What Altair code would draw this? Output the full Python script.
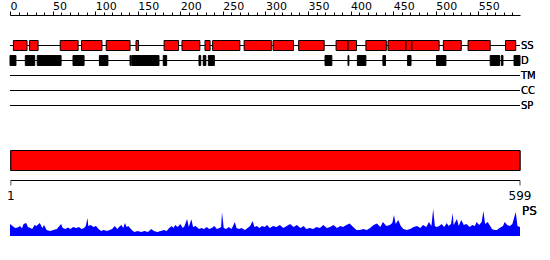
import altair as alt
import pandas as pd

SEQ_LEN = 599

# Secondary structure (SS) segments, residues
ss_start = [4, 23, 59, 84, 113, 148, 181, 202, 229, 238, 275, 309, 339, 383, 397, 418, 444, 465, 472, 509, 538, 582]
ss_end = [20, 33, 80, 108, 141, 151, 198, 223, 235, 270, 307, 333, 369, 397, 407, 442, 465, 472, 504, 530, 564, 594]

# Disorder (D) segments, residues
dis_start = [0, 18, 32, 74, 105, 141, 143, 180, 222, 227, 233, 370, 397, 408, 438, 467, 501, 564, 577, 592]
dis_end = [7, 29, 60, 87, 115, 142, 175, 184, 224, 230, 240, 378, 398, 418, 441, 471, 512, 575, 579, 599]

track_names = ["SS", "D", "TM", "CC", "SP"]

# PS profile (residue, score)
ps_pos = [0, 3, 6, 9, 12, 14, 16, 19, 21, 24, 26, 29, 31, 35, 38, 40, 43, 47, 51, 55, 57, 60, 62, 65,
          68, 71, 74, 78, 81, 84, 87, 89, 91, 92, 95, 98, 101, 104, 107, 110, 114, 117, 120, 123, 126,
          128, 131, 133, 135, 137, 139, 143, 146, 150, 154, 158, 162, 166, 169, 173, 177, 181, 184,
          187, 190, 192, 194, 197, 200, 203, 205, 208, 210, 213, 215, 218, 222, 225, 228, 231, 234,
          237, 240, 243, 246, 248, 249, 251, 254, 257, 260, 262, 264, 266, 269, 272, 276, 279, 282,
          285, 287, 290, 293, 296, 299, 302, 305, 309, 313, 317, 321, 325, 329, 333, 337, 341, 345,
          348, 352, 356, 360, 364, 368, 372, 376, 380, 384, 388, 391, 395, 399, 403, 407, 411, 415,
          419, 423, 427, 431, 435, 438, 442, 446, 449, 451, 453, 456, 459, 462, 466, 470, 474, 478,
          482, 485, 489, 492, 495, 497, 499, 501, 504, 507, 510, 513, 515, 518, 520, 521, 525, 527,
          530, 533, 536, 540, 543, 546, 548, 551, 554, 556, 558, 561, 564, 566, 569, 572, 575, 579,
          581, 584, 587, 590, 594, 596, 599]
ps_val = [0.40, 0.33, 0.27, 0.28, 0.33, 0.25, 0.40, 0.43, 0.30, 0.27, 0.23, 0.37, 0.33, 0.43, 0.27,
          0.37, 0.20, 0.17, 0.20, 0.23, 0.30, 0.40, 0.27, 0.23, 0.28, 0.23, 0.30, 0.27, 0.30, 0.23,
          0.27, 0.33, 0.60, 0.33, 0.37, 0.30, 0.33, 0.23, 0.17, 0.20, 0.17, 0.20, 0.23, 0.33, 0.23,
          0.30, 0.37, 0.27, 0.43, 0.30, 0.33, 0.20, 0.13, 0.17, 0.13, 0.17, 0.13, 0.23, 0.17, 0.13,
          0.17, 0.20, 0.17, 0.27, 0.33, 0.27, 0.37, 0.30, 0.40, 0.27, 0.33, 0.57, 0.30, 0.56, 0.30,
          0.33, 0.23, 0.27, 0.23, 0.30, 0.23, 0.27, 0.33, 0.23, 0.27, 0.30, 0.80, 0.27, 0.23, 0.30,
          0.23, 0.33, 0.47, 0.27, 0.23, 0.27, 0.20, 0.27, 0.33, 0.50, 0.30, 0.33, 0.27, 0.33, 0.30,
          0.37, 0.27, 0.33, 0.30, 0.37, 0.27, 0.33, 0.40, 0.30, 0.37, 0.27, 0.33, 0.23, 0.27, 0.23,
          0.30, 0.27, 0.37, 0.27, 0.30, 0.37, 0.27, 0.33, 0.30, 0.37, 0.42, 0.30, 0.20, 0.20, 0.23,
          0.20, 0.27, 0.37, 0.42, 0.30, 0.47, 0.33, 0.37, 0.43, 0.70, 0.40, 0.53, 0.33, 0.23, 0.20,
          0.23, 0.30, 0.33, 0.27, 0.37, 0.30, 0.47, 0.33, 0.90, 0.33, 0.30, 0.33, 0.40, 0.30, 0.43,
          0.33, 0.40, 0.77, 0.37, 0.57, 0.33, 0.53, 0.37, 0.40, 0.30, 0.37, 0.33, 0.47, 0.37, 0.47,
          0.83, 0.40, 0.47, 0.33, 0.23, 0.20, 0.20, 0.27, 0.33, 0.47, 0.37, 0.33, 0.40, 0.80, 0.33,
          0.30]

FONT = "DejaVu Sans"

ss_df = pd.DataFrame({"start": ss_start, "end": ss_end})
dis_df = pd.DataFrame({"start": dis_start, "end": dis_end})
ps_df = pd.DataFrame({"pos": ps_pos, "ps": ps_val})
ends_df = pd.DataFrame({"pos": [1, SEQ_LEN]})

track_y = {"SS": 45.5, "D": 60.5, "TM": 75.5, "CC": 90.5, "SP": 105.5}

xs = alt.Scale(domain=[0, SEQ_LEN], nice=False, zero=False)
xaxis = alt.Axis(
    orient="top", offset=-15, title=None, grid=False,
    values=list(range(0, SEQ_LEN, 10)),
    labelExpr="datum.value % 50 === 0 ? datum.label : ''",
    tickSize={"condition": {"test": "datum.value % 50 === 0", "value": 4}, "value": 3},
    labelAlign="left", labelPadding=0, labelFont=FONT, labelFontSize=11,
    labelColor="black", domainColor="black", tickColor="black",
    labelOverlap=False, labelFlush=False,
)

layers = []

# track baselines and labels
for name in track_names:
    yy = track_y[name]
    line = alt.Chart(ends_df).mark_rule(color="black", strokeWidth=1).encode(
        x=alt.datum(0, scale=xs, axis=xaxis), x2=alt.datum(SEQ_LEN), y=alt.value(yy)
    )
    lab = alt.Chart(ends_df).mark_text(align="left", baseline="middle", font=FONT, fontSize=10, color="black", dx=1).encode(
        x=alt.datum(SEQ_LEN, scale=xs, axis=xaxis), y=alt.value(yy), text=alt.value(name)
    )
    layers += [line, lab]

ss = alt.Chart(ss_df).mark_rect(fill="#ff0000", stroke="black", strokeWidth=1).encode(
    x=alt.X("start:Q", scale=xs, axis=xaxis), x2="end:Q",
    y=alt.value(40.5), y2=alt.value(50.5)
)
dis = alt.Chart(dis_df).mark_rect(fill="black", stroke="black", strokeWidth=1).encode(
    x=alt.X("start:Q", scale=xs, axis=xaxis), x2="end:Q",
    y=alt.value(55.5), y2=alt.value(65.5)
)

bar = alt.Chart(ends_df).mark_rect(fill="#ff0000", stroke="black", strokeWidth=1).encode(
    x=alt.datum(1, scale=xs, axis=xaxis), x2=alt.datum(SEQ_LEN),
    y=alt.value(150.5), y2=alt.value(170.5)
)
ruler = alt.Chart(ends_df).mark_rule(color="black").encode(
    x=alt.datum(1, scale=xs, axis=xaxis), x2=alt.datum(SEQ_LEN), y=alt.value(180.5)
)
ruler_ticks = alt.Chart(ends_df).mark_tick(color="black", orient="vertical", size=5, thickness=1).encode(
    x=alt.X("pos:Q", scale=xs, axis=xaxis), y=alt.value(183)
)
ruler_labels = alt.Chart(ends_df).mark_text(align="center", baseline="middle", font=FONT, fontSize=12, color="black").encode(
    x=alt.X("pos:Q", scale=xs, axis=xaxis), y=alt.value(196), text="pos:Q"
)
ps_label = alt.Chart(ends_df).mark_text(align="left", baseline="middle", font=FONT, fontSize=12, color="black", dx=2).encode(
    x=alt.datum(SEQ_LEN, scale=xs, axis=xaxis), y=alt.value(211), text=alt.value("PS")
)
ps = alt.Chart(ps_df).mark_area(color="#0000ff", interpolate="linear").encode(
    x=alt.X("pos:Q", scale=xs, axis=xaxis),
    y=alt.Y("ps:Q", scale=alt.Scale(domain=[0, 1], range=[236, 206], nice=False, zero=False), axis=None),
)

layers += [ss, dis, bar, ruler, ruler_ticks, ruler_labels, ps_label, ps]

chart = alt.layer(*layers).properties(
    width=510, height=260,
    padding={"left": 10, "right": 30, "top": 0, "bottom": 0},
    autosize=alt.AutoSizeParams(type="none"),
    background="white",
).configure_view(stroke=None)

chart.save("out.html", embed_options={"renderer": "svg", "actions": False})
